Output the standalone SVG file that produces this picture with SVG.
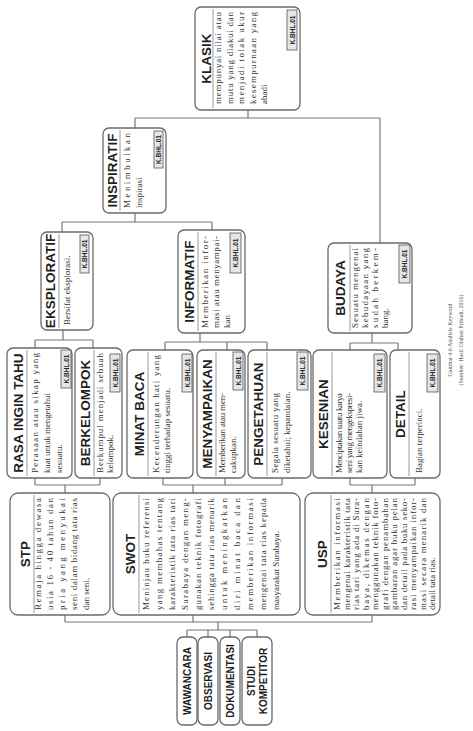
<svg xmlns="http://www.w3.org/2000/svg" width="473" height="731" viewBox="0 0 473 731">
<style>
.box{fill:#fff;stroke:#6a6a6a;stroke-width:1.3}
.div{stroke:#999;stroke-width:1}
.title{font-family:"Liberation Sans",Arial,sans-serif;font-weight:bold;font-size:13.5px;fill:#1e1e1e;text-anchor:middle}
.body{font-family:"Liberation Serif","Times New Roman",serif;font-size:9px;fill:#333}
.tag{fill:#e6e6e6;stroke:#555;stroke-width:0.8}
.tagt{font-family:"Liberation Sans",Arial,sans-serif;font-weight:bold;font-size:6.5px;fill:#222;text-anchor:middle}
.con{fill:none;stroke:#777;stroke-width:1.2}
.cap{font-family:"Liberation Serif","Times New Roman",serif;font-size:6px;fill:#555;text-anchor:middle}
</style>
<rect width="473" height="731" fill="#fff"/>
<g id="connectors" class="con">
<path d="M248,110V118M135,118H380M135,118V128M380,118V243"/>
<path d="M135,213V222M62,222H212M62,222V232M212,222V230"/>
<path d="M63,330V340M35,340H93M35,340V348M93,340V348"/>
<path d="M200,333V342M165,342H267M165,342V350M227,342V350M267,342V350"/>
<path d="M372,333V343M350,343H398M350,343V350M398,343V350"/>
<path d="M35,478V485M100,478V485M35,485H100M65,485V493"/>
<path d="M163,478V485M225,478V485M282,478V485M163,485H282M193,485V493"/>
<path d="M350,478V485M415,478V485M350,485H415M372,485V493"/>
<path d="M65,615V622M193,615V622M372,615V622M65,622H372M218,622V630M187,630H257M187,630V637M208,630V637M230,630V637M257,630V637"/>
</g>
<g id="klasik" transform="translate(195,110) rotate(-90)">
<rect class="box" x="0" y="0" width="103" height="105" rx="6"/>
<line class="div" x1="2" y1="18" x2="101" y2="18"/>
<text class="title" x="51.5" y="16">KLASIK</text>
<text class="body" x="6" y="26" textLength="92" lengthAdjust="spacing">mempunyai nilai atau</text>
<text class="body" x="6" y="37.5" textLength="92" lengthAdjust="spacing">mutu yang diakui dan</text>
<text class="body" x="6" y="49" textLength="92" lengthAdjust="spacing">menjadi tolak ukur</text>
<text class="body" x="6" y="60.5" textLength="92" lengthAdjust="spacing">kesempurnaan yang</text>
<text class="body" x="6" y="72">abadi</text>
<rect class="tag" x="60" y="92" width="40" height="10"/>
<text class="tagt" x="80" y="99.5">K.BHL.01</text>
</g>
<g id="inspiratif" transform="translate(103,213) rotate(-90)">
<rect class="box" x="0" y="0" width="85" height="63" rx="6"/>
<line class="div" x1="2" y1="17" x2="83" y2="17"/>
<text class="title" x="42.5" y="14">INSPIRATIF</text>
<text class="body" x="5" y="27" textLength="75" lengthAdjust="spacing">Menimbulkan</text>
<text class="body" x="5" y="39">inspirasi</text>
<rect class="tag" x="45" y="51" width="37" height="9"/>
<text class="tagt" x="63.5" y="58">K.BHL.01</text>
</g>
<g id="eksploratif" transform="translate(41,330) rotate(-90)">
<rect class="box" x="0" y="0" width="98" height="52" rx="6"/>
<line class="div" x1="2" y1="18" x2="96" y2="18"/>
<text class="title" x="49" y="14">EKSPLORATIF</text>
<text class="body" x="5" y="29">Bersifat eksplorasi.</text>
<rect class="tag" x="57" y="39" width="38" height="9"/>
<text class="tagt" x="76" y="46">K.BHL.01</text>
</g>
<g id="informatif" transform="translate(178,333) rotate(-90)">
<rect class="box" x="0" y="0" width="103" height="67" rx="6"/>
<line class="div" x1="2" y1="20" x2="101" y2="20"/>
<text class="title" x="51.5" y="16">INFORMATIF</text>
<text class="body" x="5" y="30" textLength="92" lengthAdjust="spacing">Memberikan infor-</text>
<text class="body" x="5" y="41" textLength="92" lengthAdjust="spacing">masi atau menyampai-</text>
<text class="body" x="5" y="52">kan</text>
<rect class="tag" x="60" y="52" width="40" height="11"/>
<text class="tagt" x="80" y="60">K.BHL.01</text>
</g>
<g id="budaya" transform="translate(328,333) rotate(-90)">
<rect class="box" x="0" y="0" width="90" height="84" rx="6"/>
<line class="div" x1="2" y1="22" x2="88" y2="22"/>
<text class="title" x="45" y="17">BUDAYA</text>
<text class="body" x="5" y="30" textLength="80" lengthAdjust="spacing">Sesuatu mengenai</text>
<text class="body" x="5" y="40" textLength="80" lengthAdjust="spacing">kebudayaan yang</text>
<text class="body" x="5" y="50" textLength="80" lengthAdjust="spacing">sudah berkem-</text>
<text class="body" x="5" y="60">bang.</text>
<rect class="tag" x="50" y="71" width="38" height="11"/>
<text class="tagt" x="69" y="79">K.BHL.01</text>
</g>
<g id="rasa-ingin-tahu" transform="translate(7,478) rotate(-90)">
<rect class="box" x="0" y="0" width="130" height="65" rx="6"/>
<line class="div" x1="2" y1="20" x2="128" y2="20"/>
<text class="title" x="65" y="16">RASA INGIN TAHU</text>
<text class="body" x="5" y="31" textLength="120" lengthAdjust="spacing">Perasaan atau sikap yang</text>
<text class="body" x="5" y="43" textLength="80" lengthAdjust="spacing">kuat untuk mengetahui</text>
<text class="body" x="5" y="55">sesuatu.</text>
<rect class="tag" x="90" y="54" width="38" height="10"/>
<text class="tagt" x="109" y="61.5">K.BHL.01</text>
</g>
<g id="berkelompok" transform="translate(75,478) rotate(-90)">
<rect class="box" x="0" y="0" width="130" height="47" rx="6"/>
<line class="div" x1="2" y1="19" x2="128" y2="19"/>
<text class="title" x="65" y="15">BERKELOMPOK</text>
<text class="body" x="5" y="28" textLength="120" lengthAdjust="spacing">Berkumpul menjadi sebuah</text>
<text class="body" x="5" y="38">kelompok.</text>
<rect class="tag" x="86" y="35" width="38" height="10"/>
<text class="tagt" x="105" y="42.5">K.BHL.01</text>
</g>
<g id="minat-baca" transform="translate(127,478) rotate(-90)">
<rect class="box" x="0" y="0" width="128" height="66" rx="6"/>
<line class="div" x1="2" y1="21" x2="126" y2="21"/>
<text class="title" x="64" y="17">MINAT BACA</text>
<text class="body" x="5" y="32" textLength="118" lengthAdjust="spacing">Kecenderungan hati yang</text>
<text class="body" x="5" y="43">tinggi terhadap sesuatu.</text>
<rect class="tag" x="86" y="55" width="38" height="10"/>
<text class="tagt" x="105" y="62.5">K.BHL.01</text>
</g>
<g id="menyampaikan" transform="translate(197,478) rotate(-90)">
<rect class="box" x="0" y="0" width="128" height="48" rx="6"/>
<line class="div" x1="2" y1="19" x2="126" y2="19"/>
<text class="title" x="64" y="15">MENYAMPAIKAN</text>
<text class="body" x="5" y="28" textLength="80" lengthAdjust="spacing">Memberikan atau men-</text>
<text class="body" x="5" y="39">cakupkan.</text>
<rect class="tag" x="88" y="36" width="38" height="10"/>
<text class="tagt" x="107" y="43.5">K.BHL.01</text>
</g>
<g id="pengetahuan" transform="translate(248,478) rotate(-90)">
<rect class="box" x="0" y="0" width="128" height="63" rx="6"/>
<line class="div" x1="2" y1="19" x2="126" y2="19"/>
<text class="title" x="64" y="15">PENGETAHUAN</text>
<text class="body" x="5" y="30" textLength="80" lengthAdjust="spacing">Segala sesuatu yang</text>
<text class="body" x="5" y="42">diketahui; kepandaian.</text>
<rect class="tag" x="88" y="49" width="38" height="11"/>
<text class="tagt" x="107" y="57">K.BHL.01</text>
</g>
<g id="kesenian" transform="translate(313,478) rotate(-90)">
<rect class="box" x="0" y="0" width="128" height="74" rx="6"/>
<line class="div" x1="2" y1="19" x2="126" y2="19"/>
<text class="title" x="64" y="15">KESENIAN</text>
<text class="body" x="5" y="29" textLength="80" lengthAdjust="spacing">Menciptakan suatu karya</text>
<text class="body" x="5" y="39" textLength="80" lengthAdjust="spacing">seni yang mengekspresi-</text>
<text class="body" x="5" y="49">kan keindahan jiwa.</text>
<rect class="tag" x="86" y="61" width="38" height="11"/>
<text class="tagt" x="105" y="69">K.BHL.01</text>
</g>
<g id="detail" transform="translate(390,478) rotate(-90)">
<rect class="box" x="0" y="0" width="128" height="50" rx="6"/>
<line class="div" x1="2" y1="19" x2="126" y2="19"/>
<text class="title" x="64" y="15">DETAIL</text>
<text class="body" x="5" y="32">Bagian terperinci.</text>
<rect class="tag" x="86" y="37" width="38" height="11"/>
<text class="tagt" x="105" y="45">K.BHL.01</text>
</g>
<g id="stp" transform="translate(10,615) rotate(-90)">
<rect class="box" x="0" y="0" width="122" height="100" rx="8"/>
<line class="div" x1="2" y1="24" x2="120" y2="24"/>
<text class="title" x="61" y="20">STP</text>
<text class="body" x="5" y="31" textLength="112" lengthAdjust="spacing">Remaja hingga dewasa</text>
<text class="body" x="5" y="43" textLength="112" lengthAdjust="spacing">usia 16 - 40 tahun dan</text>
<text class="body" x="5" y="55" textLength="112" lengthAdjust="spacing">pria yang menyukai</text>
<text class="body" x="5" y="67" textLength="112" lengthAdjust="spacing">seni dalam bidang tata rias</text>
<text class="body" x="5" y="79">dan seni.</text>
</g>
<g id="swot" transform="translate(113,615) rotate(-90)">
<rect class="box" x="0" y="0" width="122" height="187" rx="8"/>
<line class="div" x1="2" y1="26" x2="120" y2="26"/>
<text class="title" x="61" y="22">SWOT</text>
<text class="body" x="5" y="36" textLength="112" lengthAdjust="spacing">Meninjau buku referensi</text>
<text class="body" x="5" y="49" textLength="112" lengthAdjust="spacing">yang membahas tentang</text>
<text class="body" x="5" y="62" textLength="112" lengthAdjust="spacing">karakteristik tata rias tari</text>
<text class="body" x="5" y="75" textLength="112" lengthAdjust="spacing">Surabaya dengan meng-</text>
<text class="body" x="5" y="88" textLength="112" lengthAdjust="spacing">gunakan teknik fotografi</text>
<text class="body" x="5" y="101" textLength="112" lengthAdjust="spacing">sehingga tata rias menarik</text>
<text class="body" x="5" y="114" textLength="112" lengthAdjust="spacing">untuk meningkatkan</text>
<text class="body" x="5" y="127" textLength="112" lengthAdjust="spacing">diri minat baca dan</text>
<text class="body" x="5" y="140" textLength="112" lengthAdjust="spacing">memberikan informasi</text>
<text class="body" x="5" y="153" textLength="112" lengthAdjust="spacing">mengenai tata rias kepada</text>
<text class="body" x="5" y="166">masyarakat Surabaya.</text>
</g>
<g id="usp" transform="translate(305,615) rotate(-90)">
<rect class="box" x="0" y="0" width="122" height="135" rx="8"/>
<line class="div" x1="2" y1="26" x2="120" y2="26"/>
<text class="title" x="61" y="22">USP</text>
<text class="body" x="5" y="35" textLength="112" lengthAdjust="spacing">Memberikan informasi</text>
<text class="body" x="5" y="44.5" textLength="112" lengthAdjust="spacing">mengenai karakteristik tata</text>
<text class="body" x="5" y="54" textLength="112" lengthAdjust="spacing">rias tari yang ada di Sura-</text>
<text class="body" x="5" y="63.5" textLength="112" lengthAdjust="spacing">baya, dikemas dengan</text>
<text class="body" x="5" y="73" textLength="112" lengthAdjust="spacing">menggunakan teknik foto-</text>
<text class="body" x="5" y="82.5" textLength="112" lengthAdjust="spacing">grafi dengan penambahan</text>
<text class="body" x="5" y="92" textLength="112" lengthAdjust="spacing">gambaran agar buku pelan</text>
<text class="body" x="5" y="101.5" textLength="112" lengthAdjust="spacing">dan detail pada buku seko-</text>
<text class="body" x="5" y="111" textLength="112" lengthAdjust="spacing">rasi menyampaikan infor-</text>
<text class="body" x="5" y="120.5" textLength="112" lengthAdjust="spacing">masi secara menarik dan</text>
<text class="body" x="5" y="130">detail tata rias.</text>
</g>
<g id="wawancara" transform="translate(177,725) rotate(-90)">
<rect class="box" x="0" y="0" width="88" height="20" rx="6"/>
<text class="title" x="44" y="14" style="font-size:10px">WAWANCARA</text>
</g>
<g id="observasi" transform="translate(198,725) rotate(-90)">
<rect class="box" x="0" y="0" width="88" height="20" rx="6"/>
<text class="title" x="44" y="14" style="font-size:10px">OBSERVASI</text>
</g>
<g id="dokumentasi" transform="translate(220,725) rotate(-90)">
<rect class="box" x="0" y="0" width="88" height="20" rx="6"/>
<text class="title" x="44" y="14" style="font-size:10px">DOKUMENTASI</text>
</g>
<g id="studi-kompetitor" transform="translate(242,725) rotate(-90)">
<rect class="box" x="0" y="0" width="88" height="30" rx="6"/>
<text class="title" x="44" y="13" style="font-size:10px">STUDI</text>
<text class="title" x="44" y="25" style="font-size:10px">KOMPETITOR</text>
</g>
<g id="caption">
<text class="cap" transform="translate(452,340) rotate(-90)">Gambar 4.6 Analisis Keyword</text>
<text class="cap" transform="translate(463,340) rotate(-90)">(Sumber: Hasil Olahan Pribadi, 2016)</text>
</g>
</svg>
